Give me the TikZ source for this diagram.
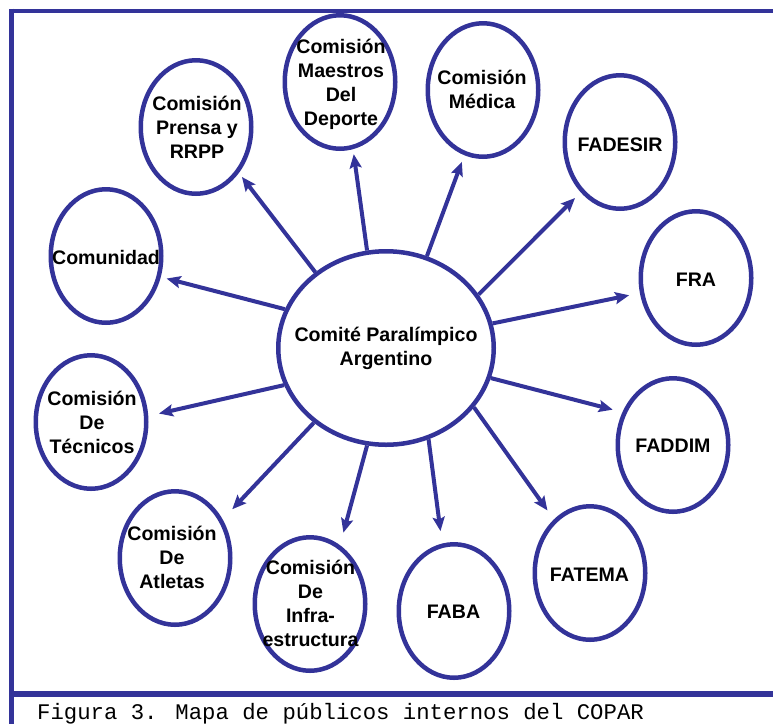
\documentclass[tikz,border=0pt]{standalone}
\usepackage{fontspec}
\setmainfont{Liberation Sans}
\newfontfamily\capfont{Liberation Mono}
\usetikzlibrary{shapes.geometric,arrows.meta}
\definecolor{cblue}{RGB}{51,51,153}
\begin{document}
\begin{tikzpicture}[x=1pt,y=-1pt,
  bub/.style={ellipse, draw=cblue, line width=4.5pt, minimum width=110.5pt, minimum height=133.5pt, inner sep=0pt, fill=white},
  lbl/.style={font=\bfseries\fontsize{19.6}{24}\selectfont, align=center, inner sep=0pt, text=black},
  arr/.style={draw=cblue, line width=4pt, -{Stealth[length=14pt,width=12pt,inset=2.5pt]}},
  frm/.style={draw=cblue, line cap=butt}]
\useasboundingbox (0,0) rectangle (773,724);
% frame
\coordinate (fl1) at (11.5,8.5);
\coordinate (fl2) at (11.5,724);
\coordinate (ft1) at (9,10.8);
\coordinate (ft2) at (773,10.8);
\coordinate (fb1) at (9,694.3);
\coordinate (fb2) at (773,694.3);
\draw[frm, line width=5pt] (fl1) -- (fl2);
\draw[frm, line width=4pt] (ft1) -- (ft2);
\draw[frm, line width=6pt] (fb1) -- (fb2);
% ellipses
\node[bub] (prensa) at (196,127) {};
\node[bub] (maestros) at (340,82) {};
\node[bub] (medica) at (483,90) {};
\node[bub] (fadesir) at (620,142) {};
\node[bub] (fra) at (696,278) {};
\node[bub] (faddim) at (673,445) {};
\node[bub] (fatema) at (590,573) {};
\node[bub] (faba) at (454,611) {};
\node[bub] (infra) at (310,604) {};
\node[bub] (atletas) at (175,558) {};
\node[bub] (tecnicos) at (91,422) {};
\node[bub] (comunidad) at (106,256) {};
\node[bub, minimum width=215.5pt, minimum height=193.5pt] (cpa) at (386,348) {};
% connectors
\draw[arr, shorten >=5pt] (cpa.133) -- (prensa.-47.5);
\draw[arr, shorten >=5pt] (cpa.101) -- (maestros.-79.5);
\draw[arr, shorten >=7pt] (cpa.66) -- (medica.-106);
\draw[arr, shorten >=8pt] (cpa.30) -- (fadesir.-128);
\draw[arr, shorten >=11pt] (cpa.13) -- (fra.-165.6);
\draw[arr, shorten >=10pt] (cpa.-16) -- (faddim.147.5);
\draw[arr, shorten >=11pt] (cpa.-34.6) -- (fatema.124.5);
\draw[arr, shorten >=12.5pt] (cpa.-65.5) -- (faba.100);
\draw[arr, shorten >=13pt] (cpa.-101) -- (infra.63);
\draw[arr, shorten >=14pt] (cpa.-134.6) -- (atletas.39);
\draw[arr, shorten >=11pt] (cpa.-160) -- (tecnicos.6);
\draw[arr, shorten >=6pt] (cpa.159) -- (comunidad.-21);
% labels
\node[lbl] (prensa-t) at (197,127) {Comisión\\Prensa y\\RRPP};
\node[lbl] (maestros-t) at (341,84) {Comisión\\Maestros\\Del\\Deporte};
\node[lbl] (medica-t) at (482,89) {Comisión\\Médica};
\node[lbl] (fadesir-t) at (620,145) {FADESIR};
\node[lbl] (fra-t) at (696,280) {FRA};
\node[lbl] (faddim-t) at (673,446) {FADDIM};
\node[lbl] (fatema-t) at (589.5,574.5) {FATEMA};
\node[lbl] (faba-t) at (453.5,611.5) {FABA};
\node[lbl] (infra-t) at (310.5,603) {Comisión\\De\\Infra-\\estructura};
\node[lbl] (atletas-t) at (172,557.5) {Comisión\\De\\Atletas};
\node[lbl] (tecnicos-t) at (92,422) {Comisión\\De\\Técnicos};
\node[lbl] (comunidad-t) at (106,257) {Comunidad};
\node[lbl] (cpa-t) at (386,348) {Comité Paralímpico\\Argentino};
% caption
\node[font=\capfont\fontsize{22.3}{26}\selectfont, anchor=base west, inner sep=0pt] (caption) at (37,719.5) {Figura 3. Mapa de públicos internos del COPAR};
\end{tikzpicture}
\end{document}
